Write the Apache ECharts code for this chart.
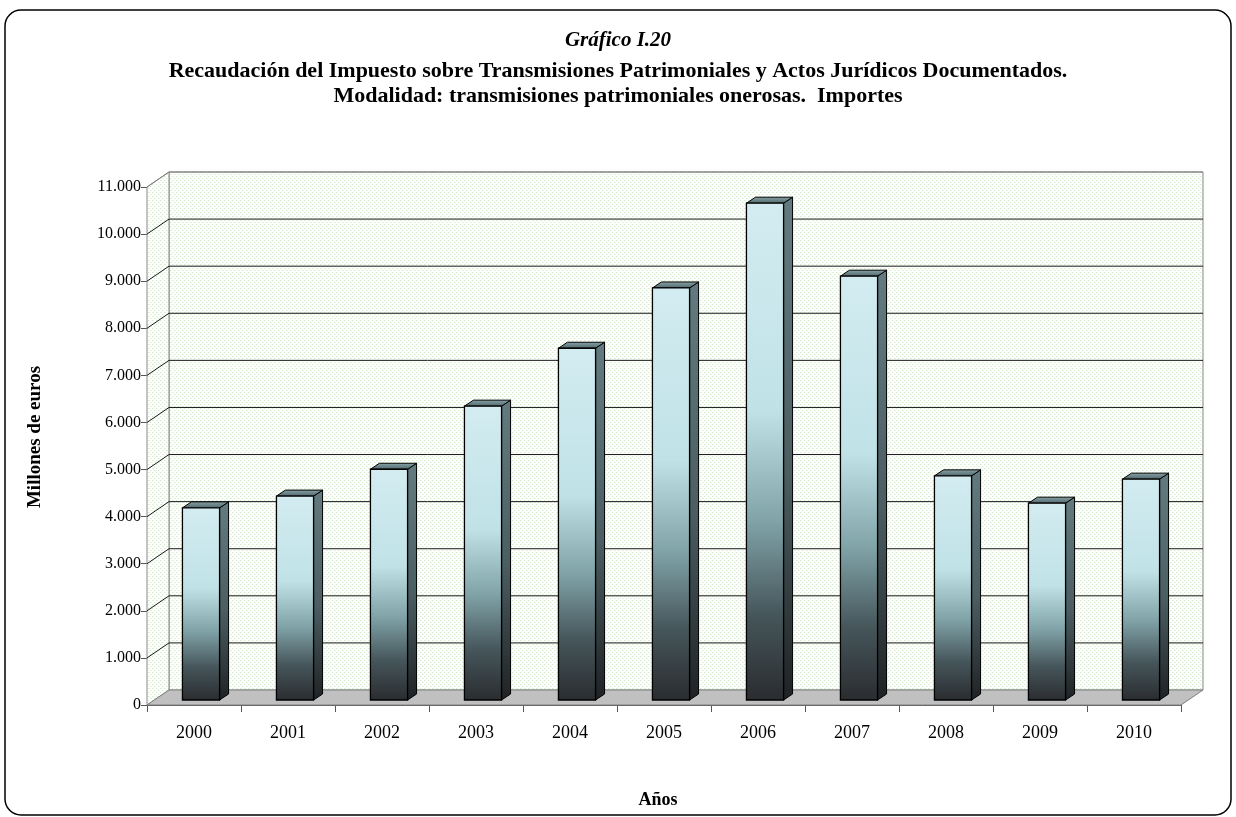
<!DOCTYPE html>
<html>
<head>
<meta charset="utf-8">
<script src="https://cdn.jsdelivr.net/npm/echarts@6/dist/echarts.min.js"></script>
<style>
html,body{margin:0;padding:0;background:#fff;}
#chart{width:1236px;height:817px;}
</style>
</head>
<body>
<div id="chart"></div>
<script>
// ---- data ----
const years = ['2000','2001','2002','2003','2004','2005','2006','2007','2008','2009','2010'];
const recaudacion = [4080, 4330, 4900, 6240, 7470, 8750, 10550, 9000, 4760, 4180, 4690];
const yTicks = [0,1000,2000,3000,4000,5000,6000,7000,8000,9000,10000,11000];

const titleText = 'Gráfico I.20';
const subtitle1 = 'Recaudación del Impuesto sobre Transmisiones Patrimoniales y Actos Jurídicos Documentados.';
const subtitle2 = 'Modalidad: transmisiones patrimoniales onerosas.  Importes';
const yName = 'Millones de euros';
const xName = 'Años';

// ---- pattern for walls ----
function makePattern(){
  const c = document.createElement('canvas');
  c.width = 4; c.height = 4;
  const ctx = c.getContext('2d');
  ctx.fillStyle = '#ffffff'; ctx.fillRect(0,0,4,4);
  ctx.fillStyle = '#d4ebcc';
  ctx.fillRect(0,0,1,1);
  ctx.fillRect(2,2,1,1);
  ctx.fillStyle = '#ebf5e6';
  ctx.fillRect(1,0,1,1);
  ctx.fillRect(3,2,1,1);
  return c;
}
const pattern = {image: makePattern(), repeat: 'repeat'};

const DX = 22, DY = -15; // depth of the 3D box
const font = '"Liberation Serif","Times New Roman",serif';

function fmt(v){ return String(v).replace(/\B(?=(\d{3})+(?!\d))/g, '.'); }

const chart = echarts.init(document.getElementById('chart'), null, {renderer:'canvas'});

const option = {
  backgroundColor: '#ffffff',
  animation: false,
  title: [
    {text: titleText, left: 'center', top: 25, textStyle:{fontFamily:font, fontSize:21, fontStyle:'italic', fontWeight:'bold', color:'#000'}},
    {text: subtitle1, left: 'center', top: 55, textStyle:{fontFamily:font, fontSize:22, fontWeight:'bold', color:'#000'}},
    {text: subtitle2, left: 'center', top: 80, textStyle:{fontFamily:font, fontSize:22, fontWeight:'bold', color:'#000'}}
  ],
  graphic: [
    {type:'rect', shape:{x:5, y:10, width:1226, height:805, r:16}, style:{fill:'none', stroke:'#000', lineWidth:1.5}, z:-10},
    {type:'text', x:35, y:437, rotation:Math.PI/2,
     style:{text: yName, fill:'#000', font:'bold 19px ' + font, textAlign:'center', textVerticalAlign:'middle'}}
  ],
  grid: {left:147, right:55, top:187, bottom:112, containLabel:false},
  xAxis: {
    type:'category', data: years, boundaryGap:true,
    name: xName, nameLocation:'middle', nameGap:86,
    nameTextStyle:{fontFamily:font, fontSize:18, fontWeight:'bold', color:'#000', padding:[0,12,0,0]},
    axisLine:{show:true, lineStyle:{color:'#555', width:1}},
    axisTick:{show:true, alignWithLabel:false, length:7, lineStyle:{color:'#555'}},
    axisLabel:{fontFamily:font, fontSize:18, color:'#000', margin:19},
    splitLine:{show:false}
  },
  yAxis: {
    type:'value', min:0, max:11000, interval:1000,
    axisLine:{show:true, lineStyle:{color:'#555', width:1}},
    axisTick:{show:true, length:6, lineStyle:{color:'#555'}},
    axisLabel:{fontFamily:font, fontSize:16, color:'#000', margin:6, formatter: v => fmt(v)},
    splitLine:{show:false}
  },
  series: [
    {
      type:'custom', name:'walls', silent:true, clip:false, z:1,
      data: [[0,0]],
      renderItem: function(params, api){
        const cs = params.coordSys;
        const x0 = cs.x, x1 = cs.x + cs.width, yT = cs.y, yB = cs.y + cs.height;
        const children = [];
        children.push({type:'rect', shape:{x:x0+DX, y:yT+DY, width:x1-x0, height:yB-yT}, style:{fill:pattern, stroke:'#888', lineWidth:1}});
        children.push({type:'polygon', shape:{points:[[x0,yT],[x0+DX,yT+DY],[x0+DX,yB+DY],[x0,yB]]}, style:{fill:pattern, stroke:'#888', lineWidth:1}});
        yTicks.forEach(function(v){
          if (v === 0) return;
          const y = api.coord([0, v])[1];
          const col = v === yTicks[yTicks.length-1] ? '#808080' : '#1a1a1a';
          children.push({type:'line', shape:{x1:x0+DX, y1:y+DY, x2:x1+DX, y2:y+DY}, style:{stroke:col, lineWidth:1}});
          children.push({type:'line', shape:{x1:x0, y1:y, x2:x0+DX, y2:y+DY}, style:{stroke:col, lineWidth:1}});
        });
        children.push({type:'polygon', shape:{points:[[x0,yB],[x1,yB],[x1+DX,yB+DY],[x0+DX,yB+DY]]}, style:{fill:'#c0c0c0', stroke:'#808080', lineWidth:1}});
        return {type:'group', children: children};
      }
    },
    {
      type:'custom', name:'Recaudación', clip:false, z:5,
      data: recaudacion.map((v,i)=>[i,v]),
      encode:{x:0, y:1},
      renderItem: function(params, api){
        const i = api.value(0), v = api.value(1);
        const base = api.coord([i, 0]);
        const top = api.coord([i, v]);
        const bw = api.size([1, 0])[0];
        const w = bw * 0.395;
        const ox = 7, oy = -5;
        const sx = 9, sy = -6;
        const xl = base[0] - w/2 + ox, xr = xl + w;
        const yb = base[1] + oy, yt = top[1] + oy;
        const frontGrad = new echarts.graphic.LinearGradient(0,0,0,1,[
          {offset:0, color:'#d3ecf1'},
          {offset:0.42, color:'#c0e2e7'},
          {offset:0.64, color:'#80a3a8'},
          {offset:0.83, color:'#45555a'},
          {offset:1, color:'#2a2c2f'}
        ]);
        const sideGrad = new echarts.graphic.LinearGradient(0,0,0,1,[
          {offset:0, color:'#637b80'},
          {offset:0.55, color:'#4b5e62'},
          {offset:1, color:'#1f2224'}
        ]);
        const topGrad = new echarts.graphic.LinearGradient(0,0,0,1,[
          {offset:0, color:'#8aa4a9'},
          {offset:1, color:'#4d6569'}
        ]);
        return {type:'group', children:[
          {type:'polygon', shape:{points:[[xr,yt],[xr+sx,yt+sy],[xr+sx,yb+sy],[xr,yb]]}, style:{fill:sideGrad, stroke:'#000', lineWidth:1}},
          {type:'polygon', shape:{points:[[xl,yt],[xl+sx,yt+sy],[xr+sx,yt+sy],[xr,yt]]}, style:{fill:topGrad, stroke:'#000', lineWidth:1}},
          {type:'rect', shape:{x:xl, y:yt, width:w, height:yb-yt}, style:{fill:frontGrad, stroke:'#000', lineWidth:1.3}}
        ]};
      }
    }
  ]
};
chart.setOption(option);
</script>
</body>
</html>
